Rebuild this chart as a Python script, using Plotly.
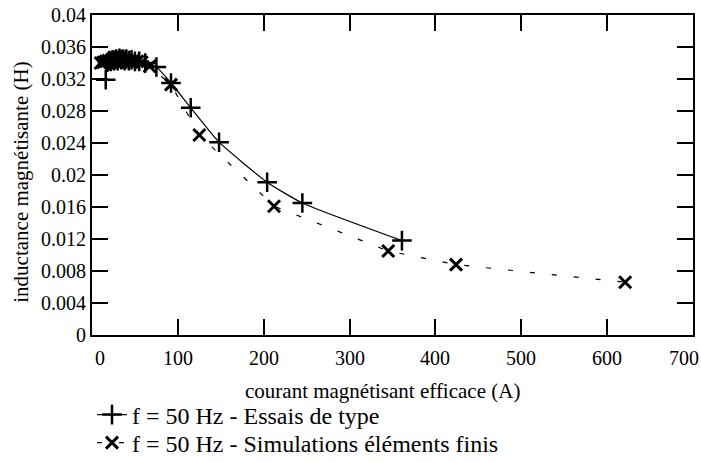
import plotly.graph_objects as go

# Essais de type (mesures à 50 Hz)
essais_courant = [16, 18, 20, 22, 24, 26, 28, 30, 32, 34, 36, 38, 40, 43, 46, 50, 55, 62, 75, 92, 115, 148, 204, 245, 361]
essais_inductance = [0.0319, 0.0341, 0.0343, 0.0342, 0.0344, 0.0343, 0.0345, 0.0343, 0.0346, 0.0344, 0.0345, 0.0343, 0.0345, 0.0343, 0.0344, 0.0342, 0.0342, 0.0340, 0.0335, 0.0315, 0.0284, 0.0241, 0.0191, 0.0165, 0.0118]

# Simulations éléments finis à 50 Hz
sim_courant = [10, 13, 16, 19, 22, 25, 28, 31, 34, 37, 40, 44, 48, 53, 58, 67, 92, 125, 212, 345, 424, 621]
sim_inductance = [0.0340, 0.0341, 0.0342, 0.0343, 0.0343, 0.0344, 0.0344, 0.0344, 0.0344, 0.0344, 0.0344, 0.0343, 0.0343, 0.0342, 0.0341, 0.0336, 0.0313, 0.0250, 0.0161, 0.0105, 0.0088, 0.0066]

x_ticks = [0, 100, 200, 300, 400, 500, 600, 700]
x_tick_text = ["0", "100", "200", "300", "400", "500", "600", "700"]
y_ticks = [0, 0.004, 0.008, 0.012, 0.016, 0.02, 0.024, 0.028, 0.032, 0.036, 0.04]
y_tick_text = ["0", "0.004", "0.008", "0.012", "0.016", "0.02", "0.024", "0.028", "0.032", "0.036", "0.04"]

FONT = "Liberation Serif"
W, H = 701, 462

fig = go.Figure()

fig.add_trace(go.Scatter(
    x=essais_courant, y=essais_inductance,
    mode="lines+markers",
    name="f = 50 Hz - Essais de type",
    legend="legend",
    line=dict(color="black", width=1.2, shape="spline", smoothing=0.5),
    marker=dict(symbol="cross-thin", size=14, color="black",
                line=dict(color="black", width=2.5)),
))

fig.add_trace(go.Scatter(
    x=sim_courant, y=sim_inductance,
    mode="lines+markers",
    name="f = 50 Hz - Simulations éléments finis",
    legend="legend2",
    line=dict(color="black", width=1.2, dash="5px,17px"),
    marker=dict(symbol="x-thin", size=12, color="black",
                line=dict(color="black", width=3)),
))

axis_common = dict(
    showgrid=False, zeroline=False,
    showline=True, linecolor="black", linewidth=2,
    mirror="ticks", ticks="inside", ticklen=16, tickwidth=2, tickcolor="black",
    tickfont=dict(family=FONT, size=20, color="black"),
)

fig.update_xaxes(range=[0, 700], tickvals=x_ticks, showticklabels=False, **axis_common)
fig.update_yaxes(range=[0, 0.04], tickvals=y_ticks, ticktext=y_tick_text, **axis_common)

# x tick labels, the two end ones pulled slightly inward
annotations = []
for i, (v, t) in enumerate(zip(x_ticks, x_tick_text)):
    shift = 8 if i == 0 else (-9 if i == len(x_ticks) - 1 else 0)
    annotations.append(dict(
        text=t, x=v, xref="x", y=0, yref="paper",
        xanchor="center", yanchor="middle", xshift=shift, yshift=-23,
        showarrow=False, font=dict(family=FONT, size=20, color="black"),
    ))

annotations += [
    dict(text="courant magnétisant efficace (A)", xref="paper", yref="paper",
         x=0.484, y=-0.174, xanchor="center", yanchor="middle", showarrow=False,
         font=dict(family=FONT, size=21, color="black")),
    dict(text="inductance magnétisante (H)", xref="paper", yref="paper",
         x=-0.1175, y=0.477, xanchor="center", yanchor="middle", showarrow=False,
         textangle=-90, font=dict(family=FONT, size=21, color="black")),
]

legend_common = dict(
    xref="container", yref="container", xanchor="left", yanchor="middle",
    font=dict(family=FONT, size=24, color="black"),
    bgcolor="rgba(0,0,0,0)", itemwidth=30,
)

fig.update_layout(
    width=W, height=H,
    margin=dict(l=92, r=8, t=15, b=127, autoexpand=False),
    paper_bgcolor="white", plot_bgcolor="white",
    font=dict(family=FONT, color="black"),
    showlegend=True,
    legend=dict(x=92 / W, y=1 - 415 / H, **legend_common),
    legend2=dict(x=92 / W, y=1 - 443 / H, **legend_common),
    annotations=annotations,
)

fig.write_html("out.html")
